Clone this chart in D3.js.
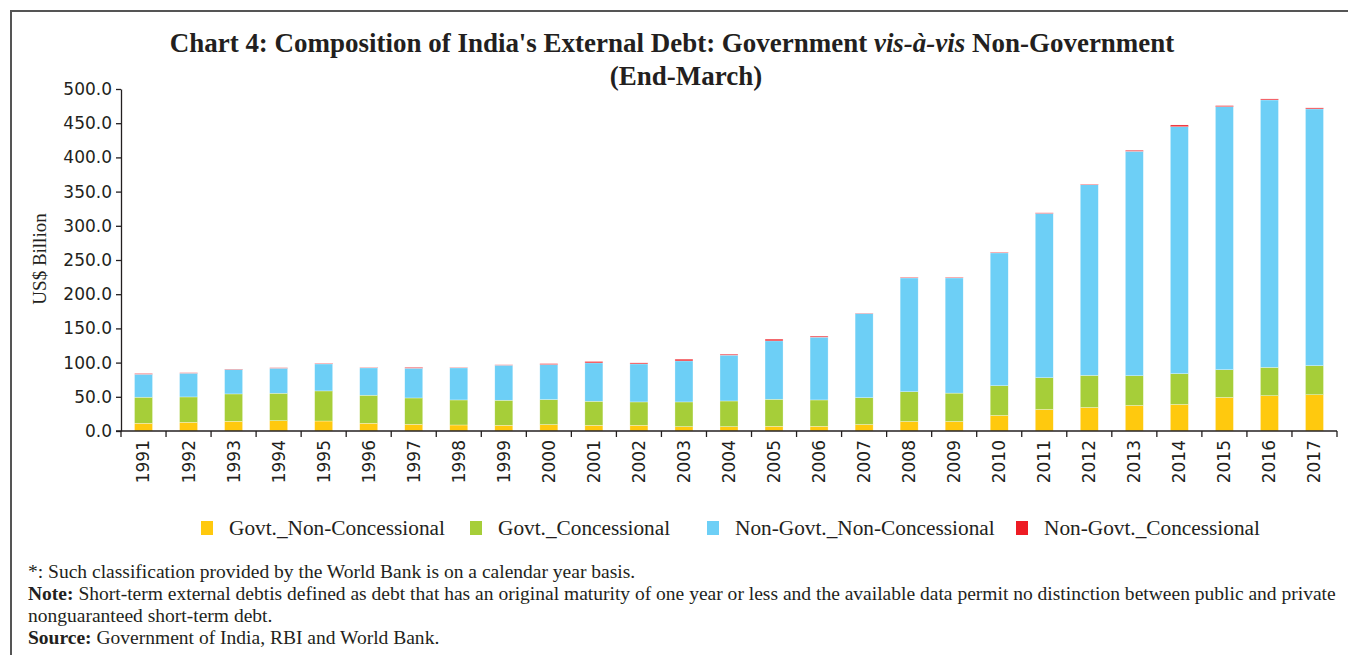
<!DOCTYPE html>
<html>
<head>
<meta charset="utf-8">
<script src="https://cdn.jsdelivr.net/npm/d3@7"></script>
<style>
  body { margin: 0; background: #fff; }
  svg { display: block; }
</style>
</head>
<body>
<svg id="chart" width="1348" height="655"></svg>
<script>
// data (US$ billion, end-March)
const years = ['1991', '1992', '1993', '1994', '1995', '1996', '1997', '1998', '1999', '2000',
    '2001', '2002', '2003', '2004', '2005', '2006', '2007', '2008', '2009', '2010',
    '2011', '2012', '2013', '2014', '2015', '2016', '2017'];
const govtNonConc = [11.3, 12.7, 14.2, 15.1, 14.6, 11.3, 9.8, 8.8, 8.3, 9.4,
    8.3, 8.3, 6.4, 6.4, 6.9, 6.9, 9.5, 13.9, 13.9, 22.7,
    31.5, 34.4, 37.3, 38.8, 49.1, 51.6, 53.0];
const govtConc = [38.1, 37.1, 40.0, 40.1, 44.0, 41.0, 38.5, 36.6, 36.7, 36.6,
    35.2, 34.2, 36.1, 37.5, 39.5, 38.5, 39.2, 43.5, 41.5, 43.5,
    46.4, 46.9, 43.5, 45.0, 40.5, 41.4, 42.5];
const nonGovtNonConc = [33.6, 34.7, 35.7, 36.6, 39.5, 40.0, 43.5, 46.9, 51.2, 51.2,
    56.1, 55.6, 60.0, 67.0, 85.4, 91.8, 123.0, 166.4, 168.4, 194.2,
    240.2, 278.7, 328.1, 361.1, 384.6, 391.0, 375.4];
const nonGovtConc = [1.0, 0.7, 0.6, 0.7, 0.9, 0.7, 1.2, 0.7, 0.6, 1.3,
    2.0, 1.5, 2.5, 1.4, 2.5, 1.5, 0.5, 1.0, 1.0, 1.0,
    0.9, 1.0, 1.5, 2.5, 1.5, 1.5, 1.5];
const seriesKeys = ['Govt._Non-Concessional', 'Govt._Concessional', 'Non-Govt._Non-Concessional', 'Non-Govt._Concessional'];
const yTicks = [0, 50, 100, 150, 200, 250, 300, 350, 400, 450, 500];

const color = ['#FFC90E', '#A6CE39', '#6DCFF6', '#ED1C24'];

const serif = "'Liberation Serif', 'DejaVu Serif', serif";
const sans = "'DejaVu Sans', sans-serif";

let svg = d3.select('#chart');

// table for the stack
let table = years.map((y, i) => ({
    year: y,
    [seriesKeys[0]]: govtNonConc[i],
    [seriesKeys[1]]: govtConc[i],
    [seriesKeys[2]]: nonGovtNonConc[i],
    [seriesKeys[3]]: nonGovtConc[i]
}));
let stackedData = d3.stack().keys(seriesKeys)(table);

// frame
svg.append('path')
    .attr('d', 'M11,655 L11,11 L1348,11')
    .attr('fill', 'none')
    .attr('stroke', '#555')
    .attr('stroke-width', 2);

// fit a text element to a target width by changing font size
function fitWidth(sel, target) {
    let size = parseFloat(sel.attr('font-size'));
    let w = sel.node().getComputedTextLength();
    sel.attr('font-size', (size * target / w).toFixed(2));
    return size * target / w;
}

// title
let title1 = svg.append('text')
    .attr('x', 672).attr('y', 52)
    .attr('text-anchor', 'middle')
    .attr('font-family', serif)
    .attr('font-weight', 'bold')
    .attr('font-size', 26)
    .attr('fill', '#231f20');
title1.append('tspan').text("Chart 4: Composition of India's External Debt: Government ");
title1.append('tspan').attr('font-style', 'italic').text('vis-à-vis');
title1.append('tspan').text(' Non-Government');
let titleSize = fitWidth(title1, 1005);

svg.append('text')
    .attr('x', 686).attr('y', 85)
    .attr('text-anchor', 'middle')
    .attr('font-family', serif)
    .attr('font-weight', 'bold')
    .attr('font-size', titleSize)
    .attr('fill', '#231f20')
    .text('(End-March)');

// scales
let x0 = 121, x1 = 1337, y0 = 431, y1 = 89;
let xScale = d3.scaleBand().domain(years).range([x0, x1]).padding(0);
let yScale = d3.scaleLinear().domain([0, 500]).range([y0, y1]);
let barW = xScale.bandwidth() * 0.4;

let chart = svg.append('g');

// bars
let series = chart.selectAll('.series')
    .data(stackedData)
    .enter()
    .append('g')
    .attr('class', 'series')
    .attr('fill', (d, i) => color[i]);

series.selectAll('rect')
    .data(d => d)
    .enter()
    .append('rect')
    .attr('x', d => xScale(d.data.year) + (xScale.bandwidth() - barW) / 2)
    .attr('width', barW)
    .attr('y', d => yScale(d[1]))
    .attr('height', d => yScale(d[0]) - yScale(d[1]))
    .attr('stroke', '#ffffff')
    .attr('stroke-opacity', 0.6)
    .attr('stroke-width', 0.5);

// y axis
let yAxis = chart.append('g')
    .attr('transform', `translate(${x0},0)`)
    .call(d3.axisLeft(yScale).tickValues(yTicks).tickFormat(d3.format('.1f')).tickSize(5).tickSizeOuter(0).tickPadding(4));
yAxis.selectAll('text')
    .attr('font-family', sans)
    .attr('font-size', 17)
    .attr('fill', '#231f20');
yAxis.selectAll('line, path').attr('stroke', '#231f20').attr('stroke-width', 1.3);

// x axis: labels at band centres, ticks at band edges
let xAxis = chart.append('g')
    .attr('transform', `translate(0,${y0})`)
    .call(d3.axisBottom(xScale).tickSize(0).tickSizeOuter(0).tickPadding(0));
xAxis.select('path').attr('stroke', '#231f20').attr('stroke-width', 1.3)
    .attr('d', `M${x0 - 5},0H${x1}`);
xAxis.selectAll('text')
    .attr('font-family', sans)
    .attr('font-size', 17)
    .attr('fill', '#231f20')
    .attr('transform', 'rotate(-90)')
    .attr('text-anchor', 'end')
    .attr('x', -9)
    .attr('y', 0)
    .attr('dy', '0.35em');
xAxis.selectAll('.edge')
    .data(years.map(y => xScale(y)).concat([x1]))
    .enter()
    .append('line')
    .attr('class', 'edge')
    .attr('x1', d => d).attr('x2', d => d)
    .attr('y1', 0).attr('y2', 6)
    .attr('stroke', '#231f20')
    .attr('stroke-width', 1.3);

// y label
svg.append('text')
    .attr('transform', 'translate(46,259) rotate(-90)')
    .attr('text-anchor', 'middle')
    .attr('font-family', serif)
    .attr('font-size', 19)
    .attr('fill', '#231f20')
    .text('US$ Billion');

// legend
const legendX = [201, 470, 707, 1016];
let legend = svg.append('g');
seriesKeys.forEach((k, i) => {
    legend.append('rect')
        .attr('x', legendX[i]).attr('y', 521)
        .attr('width', 12).attr('height', 14)
        .attr('fill', color[i]);
    legend.append('text')
        .attr('x', legendX[i] + 28).attr('y', 535)
        .attr('font-family', serif)
        .attr('font-size', 21.3)
        .attr('fill', '#231f20')
        .text(k);
});

// footnotes
let noteSize = 17;
let notes = svg.append('g')
    .attr('font-family', serif)
    .attr('fill', '#231f20');
let line2 = notes.append('text').attr('x', 28).attr('y', 600).attr('font-size', noteSize);
line2.append('tspan').attr('font-weight', 'bold').text('Note:');
line2.append('tspan').text(' Short-term external debtis defined as debt that has an original maturity of one year or less and the available data permit no distinction between public and private');
noteSize = fitWidth(line2, 1308);

notes.append('text').attr('x', 28).attr('y', 578).attr('font-size', noteSize)
    .text('*: Such classification provided by the World Bank is on a calendar year basis.');
notes.append('text').attr('x', 28).attr('y', 622).attr('font-size', noteSize)
    .text('nonguaranteed short-term debt.');
let line4 = notes.append('text').attr('x', 28).attr('y', 644).attr('font-size', noteSize);
line4.append('tspan').attr('font-weight', 'bold').text('Source:');
line4.append('tspan').text(' Government of India, RBI and World Bank.');
</script>
</body>
</html>
